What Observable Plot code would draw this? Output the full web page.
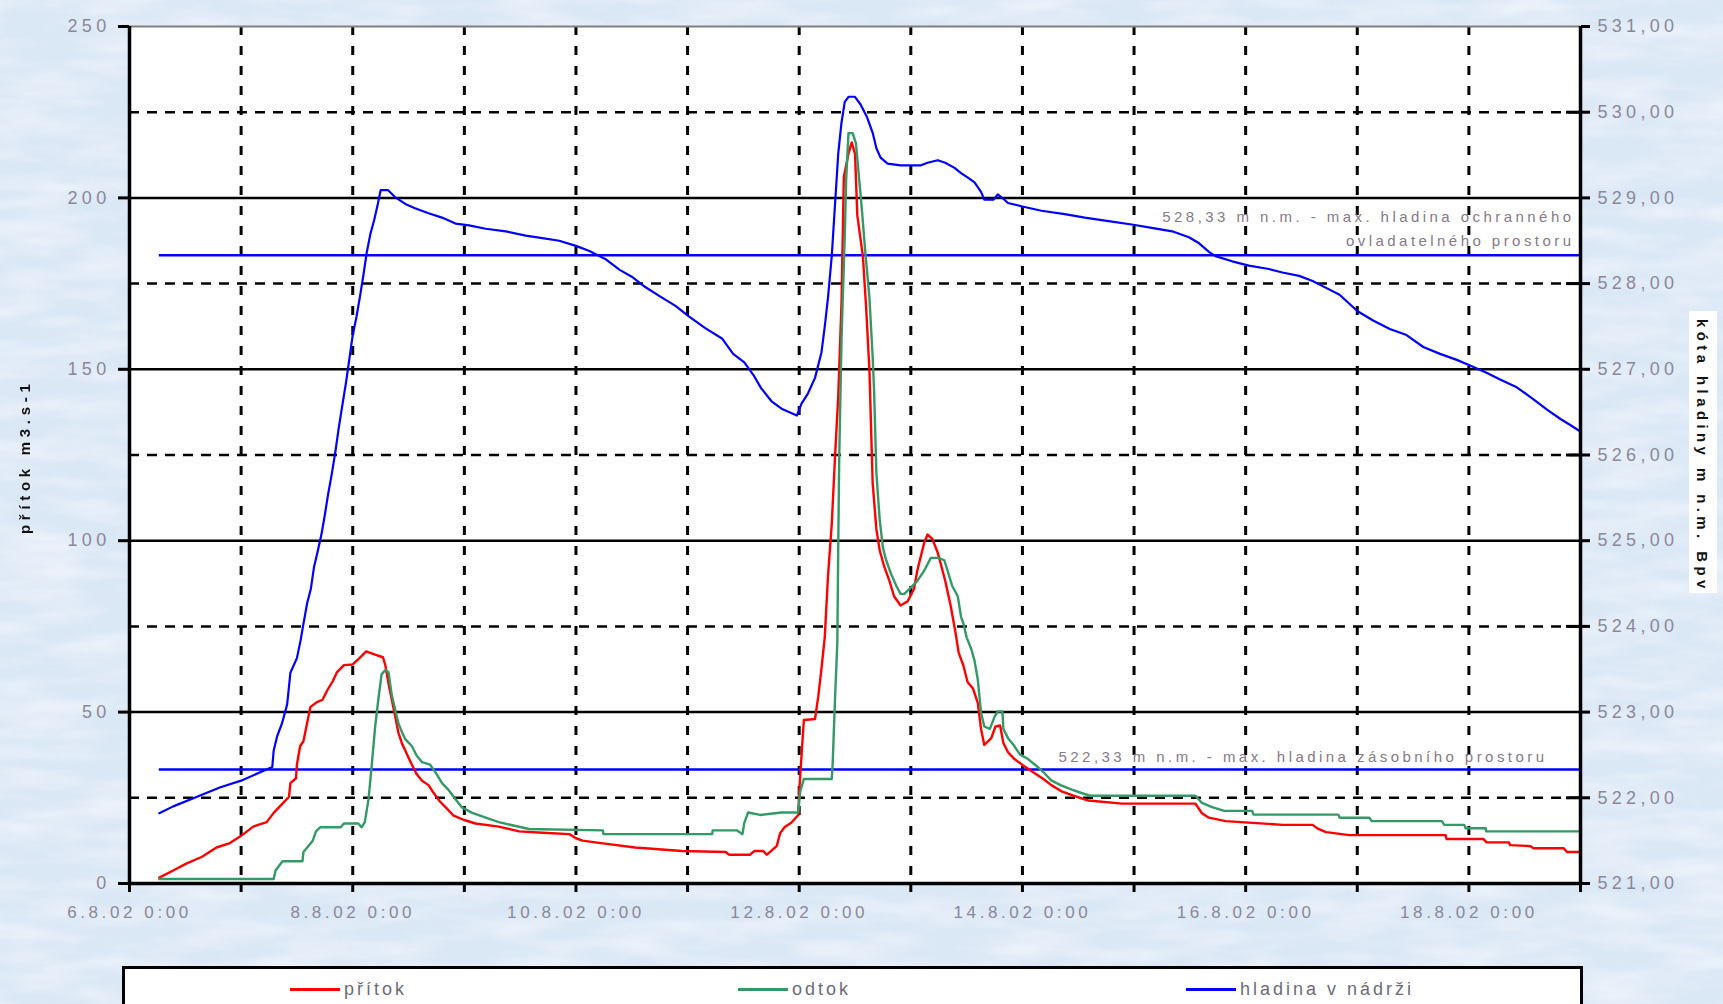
<!DOCTYPE html>
<html><head><meta charset="utf-8">
<script src="https://cdn.jsdelivr.net/npm/d3@7"></script>
<script src="https://cdn.jsdelivr.net/npm/@observablehq/plot@0.6"></script>
<style>
html,body{margin:0;padding:0;width:1723px;height:1004px;overflow:hidden;background:#dbe8f5;font-family:"Liberation Sans",Arial,sans-serif;}
#bg{position:absolute;left:0;top:0;}
#chart{position:absolute;left:0;top:0;}
#ytitle{position:absolute;left:16px;top:370px;height:164px;writing-mode:vertical-rl;transform:rotate(180deg);font-weight:bold;font-size:15px;letter-spacing:4.7px;color:#111;white-space:nowrap;}
#y2title{position:absolute;left:1689px;top:311px;width:28px;height:282px;background:#fff;}
#y2title span{position:absolute;left:5px;top:8px;writing-mode:vertical-rl;font-weight:bold;font-size:15px;letter-spacing:4.4px;color:#111;white-space:nowrap;}
#legend{position:absolute;left:122px;top:966px;width:1455px;height:60px;background:#fff;border:3px solid #000;}
.item{position:absolute;top:10px;font-size:18px;letter-spacing:3px;color:#6d6a78;white-space:nowrap;}
.item i{display:inline-block;width:50px;height:3px;vertical-align:middle;margin-right:4px;position:relative;top:-1px;}
g[aria-label="y-axis tick label"] text{letter-spacing:4.3px;}
g[aria-label="x-axis tick label"] text{letter-spacing:3.6px;}
g[aria-label="text"] text{letter-spacing:3.45px;}
</style>
</head><body>
<svg id="bg" width="1723" height="1004">
  <filter id="n"><feTurbulence type="fractalNoise" baseFrequency="0.03" numOctaves="4" seed="7"/>
  <feColorMatrix type="matrix" values="0 0 0 0 0.72  0 0 0 0 0.81  0 0 0 0 0.93  0 0 0 1.2 -0.35"/></filter>
  <filter id="w"><feTurbulence type="fractalNoise" baseFrequency="0.012 0.05" numOctaves="3" seed="11"/>
  <feColorMatrix type="matrix" values="0 0 0 0 0.96  0 0 0 0 0.97  0 0 0 0 1  0 0 0 1.3 -0.45"/></filter>
  <rect width="1723" height="1004" fill="#dae7f5"/>
  <rect width="1723" height="1004" filter="url(#n)" opacity="0.7"/>
  <rect width="1723" height="1004" filter="url(#w)" opacity="0.8"/>
</svg>
<div id="chart"></div>
<div id="ytitle">přítok m3.s-1</div>
<div id="y2title"><span>kóta hladiny m n.m. Bpv</span></div>
<div id="legend"></div>
<script>
// time in hours since 6.8.2002 0:00
const pritok = [[6.4,1.7],[9.4,3.8],[12.2,5.8],[15.6,7.8],[18.7,10.5],[21.6,11.8],[24,13.9],[26.6,16.6],[29.5,17.9],[31,20.6],[32.9,23.3],[34.3,25.3],[34.6,29.3],[35.8,30.7],[36,34.7],[36.7,40.1],[37.4,41.5],[38.4,48.2],[38.9,51.5],[40.3,52.9],[41.5,53.6],[42.5,56.3],[43.7,59],[44.6,61.6],[46.1,63.7],[48,63.9],[49.4,65.7],[50.9,67.7],[52.8,66.8],[54.5,66],[55,63.7],[55.7,58.3],[56.4,53.6],[57.1,48.9],[57.8,44.1],[58.6,40.8],[59.3,38.8],[60,36.7],[60.7,34.7],[61.7,32],[62.9,30],[64.3,28.7],[65.3,26.6],[66.7,24],[68.2,21.9],[69.6,19.9],[71.8,18.6],[74.4,17.5],[79.4,16.6],[83.8,15.2],[88.8,14.8],[94.6,14.4],[96,13.2],[97.4,12.5],[101.8,11.7],[108.7,10.5],[118.8,9.5],[128.2,9.2],[128.9,8.4],[133.4,8.4],[134.4,9.5],[136.3,9.5],[137,8.4],[138,9.5],[139.2,11],[139.9,14.7],[140.9,16.5],[142.3,17.7],[143.8,20],[144,26.7],[144.5,37.2],[145,47.7],[147.4,48],[148.1,54.5],[148.8,62.8],[149.5,71.8],[150.2,89.8],[151,104.8],[151.7,124.3],[152.4,142.3],[153.1,169.4],[153.6,206.2],[154.6,212.9],[155.3,216.2],[156,212.9],[156.5,194.9],[157.7,182.9],[158.4,167.9],[159.1,149.8],[159.8,116.8],[160.6,103.3],[161.3,97.3],[162.2,92.8],[163.4,88.3],[164.4,83.8],[165.8,81.1],[167.3,82.3],[168.7,86],[169.4,91.3],[170.9,99.5],[171.6,101.8],[172.6,100.6],[173.8,96.5],[175.4,88.3],[176.6,80.8],[177.6,73.3],[178.3,67.3],[179.3,63.6],[180.2,58.8],[181.4,56.8],[182.4,52.7],[183.1,45.1],[183.8,40.4],[185.3,42.4],[186.2,45.8],[187.2,46.1],[187.9,41],[188.9,38.3],[190.3,36.3],[192,34.6],[194.4,32.4],[196.6,30.4],[198.2,28.7],[200.4,26.9],[203,25.6],[206.2,24.2],[213.4,23.3],[229.2,23.3],[230.6,20.5],[232.1,19.2],[235.7,18.2],[248,17.1],[254.4,17.1],[255.5,16],[257.3,15],[262.3,14.1],[283,14.1],[283.2,13],[291.1,13],[291.8,12],[296.6,12],[296.9,11.2],[301.2,10.9],[301.9,10.3],[308.4,10.3],[309.1,9.2],[312,9.2]];

const odtok = [[6.4,1.3],[31,1.3],[31.4,3.8],[32.9,6.5],[37.2,6.5],[37.4,9.2],[38.2,10.5],[39.4,12.5],[40.1,15.2],[41,16.4],[45.4,16.4],[46.1,17.5],[49.2,17.5],[49.9,16.4],[50.6,17.9],[51.4,24.6],[52.1,34.7],[52.8,45.5],[53.5,53.6],[54.2,61],[55,62.3],[55.7,61.6],[56.4,54.9],[57.1,50.9],[57.8,46.8],[58.6,44.1],[59.3,42.1],[60.7,40.1],[61.7,37.4],[62.9,35.4],[64.6,34.7],[66,32],[67.2,29.3],[68.6,27.3],[70.1,24.6],[71.5,22.2],[73.7,20.6],[76.6,19.2],[79.4,17.9],[82.3,17],[85.9,15.9],[101.8,15.5],[101.9,14.4],[125.3,14.4],[125.4,15.5],[130.6,15.5],[131.8,14.4],[132.2,17.7],[133,20.7],[135.6,20],[140.2,20.7],[143.8,20.7],[144.2,26.7],[145,30.5],[151,30.5],[151.2,35],[151.7,53.8],[152.2,70.3],[152.4,98.8],[152.6,123.6],[153.1,158.9],[153.8,188.9],[154.1,205.4],[154.6,218.9],[155.5,218.9],[156.2,215.9],[156.7,208.4],[157.4,197.9],[158.2,184.4],[159.1,170.9],[159.8,153.6],[160.1,143.8],[160.6,119.8],[161.3,106.3],[162,98],[162.7,94.3],[163.7,90.5],[164.9,86.8],[165.8,84.5],[166.6,84.5],[167.8,86],[169.4,88.3],[170.9,91.3],[172.3,95],[174,95],[175.2,94.3],[175.9,91.3],[176.9,86.8],[178.1,83.8],[178.8,77.8],[179.3,75.9],[180,71.8],[181,68.4],[181.7,65],[182.4,59.5],[183.1,49.9],[183.8,45.8],[185,45.1],[186,48.6],[186.7,50.2],[187.7,50.2],[187.9,45.1],[188.9,42.4],[190.1,40.4],[191.5,37.6],[193.2,36.3],[195.1,34.2],[196.8,32.1],[198.2,30.1],[200.2,28.7],[202.6,27.4],[204.7,26.4],[206.6,25.6],[229.2,25.6],[230.6,23.5],[232.8,22.3],[235.4,21.2],[241.4,21.2],[241.7,20.1],[259.9,20.1],[260.2,19.2],[266.6,19.2],[267.1,18.2],[282.2,18.2],[282.7,17.1],[287,17.1],[287.3,16.1],[291.6,16.1],[291.7,15.2],[312,15.2]];

// water level, m n.m. (right axis)
const hladina = [[6.4,521.82],[9.4,521.90],[14.4,522.01],[19.4,522.12],[24,522.20],[28.6,522.31],[30.7,522.36],[31.0,522.55],[31.7,522.71],[32.8,522.87],[33.9,523.09],[34.6,523.46],[36.0,523.63],[36.8,523.84],[37.4,524.03],[38.2,524.27],[39.0,524.44],[39.7,524.70],[40.4,524.86],[41.3,525.08],[42.0,525.30],[42.7,525.54],[43.5,525.78],[44.3,526.05],[45.0,526.32],[45.8,526.59],[46.6,526.86],[47.3,527.13],[48.0,527.40],[48.8,527.61],[49.5,527.83],[50.3,528.10],[51.0,528.36],[51.8,528.58],[52.6,528.74],[53.4,528.93],[54.0,529.09],[55.6,529.09],[57.1,529.01],[59.3,528.93],[61.4,528.88],[64.3,528.82],[67.2,528.77],[70.1,528.70],[73.0,528.68],[76.6,528.64],[80.9,528.61],[85.2,528.56],[88.8,528.53],[92.4,528.50],[96,528.44],[98.9,528.38],[102.5,528.28],[105.4,528.16],[108,528.08],[110.9,527.96],[113.8,527.86],[117.4,527.74],[120.2,527.62],[123.8,527.48],[127.4,527.36],[129.8,527.18],[132.2,527.08],[134.2,526.93],[135.8,526.78],[138,526.63],[140.2,526.54],[143.5,526.46],[144.5,526.60],[145.9,526.72],[147.4,526.90],[148.8,527.20],[149.5,527.50],[150.2,527.84],[151.0,528.32],[151.7,528.92],[152.4,529.52],[153.1,529.88],[153.8,530.12],[154.6,530.18],[156.0,530.18],[157.2,530.09],[158.6,529.94],[159.8,529.76],[160.6,529.58],[161.5,529.47],[163.0,529.40],[165.8,529.38],[170.2,529.38],[171.6,529.41],[173.8,529.44],[175.4,529.41],[177.4,529.35],[178.8,529.29],[180.2,529.24],[181.7,529.18],[183.1,529.07],[183.8,528.98],[185.8,528.98],[186.7,529.04],[187.9,528.99],[188.9,528.94],[192,528.90],[196.1,528.85],[201.1,528.81],[205.4,528.77],[210.5,528.73],[215.5,528.69],[219.8,528.65],[224.2,528.61],[227.8,528.54],[230,528.47],[232.1,528.37],[233.5,528.32],[237.1,528.26],[240.7,528.21],[245,528.17],[247.9,528.13],[251.5,528.09],[254.4,528.03],[257.3,527.95],[260.2,527.87],[264,527.68],[267.4,527.57],[271,527.47],[274.6,527.40],[278.2,527.26],[281.8,527.18],[285.4,527.11],[288,527.05],[291.8,526.96],[294.7,526.88],[298.3,526.79],[301.9,526.65],[304.8,526.53],[307.7,526.42],[309.8,526.35],[311.8,526.28]];

const limitLevels = [528.33, 522.33];
const limitLabels = [["528,33 m n.m. - max. hladina ochranného", "ovladatelného prostoru"], ["522,33 m n.m. - max. hladina zásobního prostoru"]];
const leftTicks = [0, 50, 100, 150, 200, 250];
const rightTicks = [521, 522, 523, 524, 525, 526, 527, 528, 529, 530, 531];
const legendNames = ["přítok", "odtok", "hladina v nádrži"];
const seriesColors = ["#ff0000", "#339966", "#0000ff"];

const t0 = Date.UTC(2002, 7, 6);
const toDate = h => new Date(t0 + h * 3600e3);
const start = toDate(0), end = toDate(13 * 24);
const lvl = m => (m - 521) * 25; // right-axis level -> left-axis units

const redRows = pritok.map(([h, v]) => ({date: toDate(h), v}));
const greenRows = odtok.map(([h, v]) => ({date: toDate(h), v}));
const blueRows = hladina.map(([h, m]) => ({date: toDate(h), v: lvl(m)}));
const dataStart = blueRows[0].date;

const days = d3.utcDay.range(start, d3.utcDay.offset(end, 1));
const innerDays = days.slice(1, -1);
const rightVals = rightTicks.map(lvl);
const solidVals = leftTicks.filter(v => v > 0 && v < 250);
const dashedVals = rightVals.filter(v => v % 50 !== 0);

const annot = [];
limitLabels.forEach((lines, i) => lines.forEach((t, j) => annot.push({y: lvl(limitLevels[i]), text: t, row: lines.length - 1 - j, k: i})));

const fmtDay = d => {
  const off = Math.round((d - start) / 864e5);
  return off % 2 === 0 ? `${d.getUTCDate()}.${d.getUTCMonth() + 1}.${String(d.getUTCFullYear() % 100).padStart(2, "0")} 0:00` : "";
};

const chart = Plot.plot({
  width: 1723, height: 966,
  marginLeft: 129, marginRight: 143, marginTop: 26, marginBottom: 83,
  style: {background: "transparent", overflow: "visible", fontFamily: "'Liberation Sans', Arial, sans-serif"},
  x: {type: "utc", domain: [start, end]},
  y: {domain: [0, 250]},
  marks: [
    Plot.frame({fill: "white", stroke: null}),
    Plot.ruleY(dashedVals, {stroke: "black", strokeWidth: 2.5, strokeDasharray: "10,8"}),
    Plot.ruleX(innerDays, {stroke: "black", strokeWidth: 3, strokeDasharray: "9,11"}),
    Plot.ruleY(solidVals, {stroke: "black", strokeWidth: 2.5}),
    Plot.ruleY([250], {stroke: "#808080", strokeWidth: 2}),
    Plot.ruleY(limitLevels.map(lvl), {x1: dataStart, x2: end, stroke: seriesColors[2], strokeWidth: 2.5}),
    Plot.text(annot, {x: end, y: "y", text: "text", textAnchor: "end", fontSize: 15, fill: "#857a86"}),
    Plot.line(blueRows, {x: "date", y: "v", stroke: seriesColors[2], strokeWidth: 2.2}),
    Plot.line(redRows, {x: "date", y: "v", stroke: seriesColors[0], strokeWidth: 2.4}),
    Plot.line(greenRows, {x: "date", y: "v", stroke: seriesColors[1], strokeWidth: 2.4}),
    Plot.ruleY([0], {stroke: "black", strokeWidth: 3.5}),
    Plot.ruleX([start, end], {stroke: "black", strokeWidth: 3.5}),
    Plot.axisY({anchor: "left", ticks: leftTicks, tickSize: 11, tickPadding: 8, stroke: "black", strokeWidth: 3, fill: "#8a8898", fontSize: 18, label: null}),
    Plot.axisY({anchor: "right", ticks: rightVals, tickSize: 9, tickPadding: 8, stroke: "black", strokeWidth: 3, fill: "#8a8898", fontSize: 18, label: null,
      tickFormat: v => (521 + v / 25).toFixed(2).replace(".", ",")}),
    Plot.axisY({anchor: "right", ticks: dashedVals, tickSize: -15, tickPadding: 0, stroke: "black", strokeWidth: 3, label: null, tickFormat: () => ""}),
    Plot.axisX({ticks: days, tickSize: 9, tickPadding: 13, stroke: "black", strokeWidth: 3, fill: "#8a8898", fontSize: 17, label: null, tickFormat: fmtDay})
  ]
});
document.getElementById("chart").appendChild(chart);

// place annotation lines above their limit line
d3.select(chart).selectAll('g[aria-label="text"] text').each(function(d, i) {
  const a = annot[i];
  const dx = a.k === 0 ? -6 : -33;
  const dy = a.k === 0 ? (a.row === 1 ? -43 : -19) : -18;
  const t = d3.select(this);
  const tr = t.attr("transform") || "";
  t.attr("transform", tr + ` translate(${dx},${dy})`).attr("dy", "0.35em");
});

const legend = document.getElementById("legend");
const legendX = [165, 613, 1061];
legendNames.forEach((name, i) => {
  const el = document.createElement("div");
  el.className = "item";
  el.style.left = legendX[i] + "px";
  el.innerHTML = `<i style="background:${seriesColors[i]}"></i>${name}`;
  legend.appendChild(el);
});
</script>
</body></html>
